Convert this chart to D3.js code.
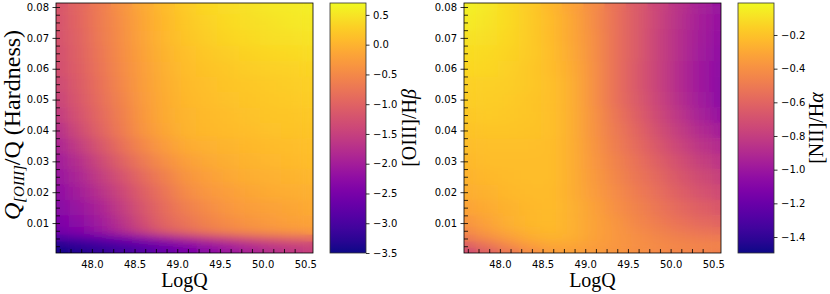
<!DOCTYPE html>
<meta charset="utf-8">
<style>
	body { margin: 0; background: #fff; }
	text { font-family: "DejaVu Sans"; font-size: 10px; fill: #000; }
	.serif { font-family: "Liberation Serif", "Times New Roman", serif; }
	.axis path.domain { display: none; }
	.axis line { stroke: #000; stroke-width: 0.8; }
</style>
<body>
<svg id="chart" width="830" height="294">
	<defs>
		<filter id="soft" x="0" y="0" width="1" height="1">
			<feGaussianBlur stdDeviation="9 4.5" />
		</filter>
	</defs>
</svg>

<script src="https://d3js.org/d3.v7.min.js"></script>
<script>
	// grid columns (log ionising photon rate) and rows (hardness), rows top to bottom
	var logQ = [47.6, 47.85, 48.1, 48.35, 48.6, 48.85, 49.1, 49.35, 49.6, 49.85, 50.1, 50.35, 50.6];
	var hardness = [0.08, 0.075, 0.07, 0.065, 0.06, 0.055, 0.05, 0.045, 0.04, 0.035, 0.03,
		0.025, 0.02, 0.015, 0.01, 0.0075, 0.005, 0.003, 0.001];

	// log [OIII]/Hbeta, one row per hardness value
	var oiiiHb = [
		[-1.20, -0.95, -0.65, -0.38, -0.12, 0.08, 0.25, 0.36, 0.43, 0.48, 0.52, 0.56, 0.60],
		[-1.22, -0.97, -0.67, -0.40, -0.14, 0.06, 0.22, 0.32, 0.39, 0.44, 0.48, 0.52, 0.55],
		[-1.24, -0.99, -0.69, -0.42, -0.16, 0.04, 0.19, 0.28, 0.35, 0.40, 0.44, 0.47, 0.50],
		[-1.27, -1.02, -0.72, -0.44, -0.19, 0.01, 0.14, 0.22, 0.28, 0.33, 0.37, 0.40, 0.43],
		[-1.30, -1.05, -0.75, -0.47, -0.22, -0.03, 0.10, 0.17, 0.22, 0.26, 0.29, 0.32, 0.35],
		[-1.37, -1.10, -0.80, -0.51, -0.25, -0.06, 0.07, 0.13, 0.18, 0.22, 0.25, 0.28, 0.30],
		[-1.45, -1.15, -0.85, -0.55, -0.28, -0.08, 0.05, 0.10, 0.15, 0.18, 0.21, 0.24, 0.26],
		[-1.58, -1.22, -0.92, -0.60, -0.31, -0.10, 0.02, 0.07, 0.12, 0.15, 0.18, 0.20, 0.22],
		[-1.75, -1.35, -1.00, -0.66, -0.36, -0.14, 0.00, 0.05, 0.09, 0.12, 0.15, 0.17, 0.19],
		[-1.90, -1.55, -1.18, -0.82, -0.50, -0.26, -0.10, -0.03, 0.02, 0.06, 0.09, 0.11, 0.13],
		[-2.05, -1.75, -1.38, -1.02, -0.68, -0.42, -0.22, -0.12, -0.05, 0.00, 0.04, 0.07, 0.10],
		[-2.15, -1.88, -1.55, -1.22, -0.88, -0.60, -0.36, -0.22, -0.13, -0.07, -0.03, 0.00, 0.03],
		[-2.25, -2.00, -1.72, -1.40, -1.05, -0.75, -0.48, -0.32, -0.22, -0.15, -0.10, -0.06, -0.03],
		[-2.35, -2.15, -1.90, -1.56, -1.18, -0.86, -0.62, -0.45, -0.33, -0.25, -0.19, -0.14, -0.10],
		[-2.45, -2.30, -2.05, -1.70, -1.30, -0.95, -0.75, -0.57, -0.44, -0.34, -0.27, -0.21, -0.17],
		[-2.55, -2.40, -2.15, -1.82, -1.45, -1.10, -0.88, -0.70, -0.56, -0.46, -0.38, -0.32, -0.28],
		[-2.95, -2.85, -2.70, -2.50, -2.25, -2.00, -1.75, -1.52, -1.32, -1.15, -1.02, -0.92, -0.85],
		[-3.35, -3.25, -3.12, -2.97, -2.80, -2.60, -2.40, -2.20, -2.00, -1.82, -1.66, -1.52, -1.42],
		[-3.45, -3.36, -3.22, -3.07, -2.90, -2.70, -2.50, -2.30, -2.10, -1.92, -1.74, -1.60, -1.48]
	];

	// log [NII]/Halpha
	var niiHa = [
		[-0.04, -0.07, -0.12, -0.17, -0.24, -0.32, -0.42, -0.54, -0.65, -0.76, -0.86, -0.95, -1.02],
		[-0.06, -0.08, -0.12, -0.17, -0.23, -0.31, -0.42, -0.54, -0.65, -0.76, -0.87, -0.96, -1.03],
		[-0.09, -0.10, -0.13, -0.17, -0.23, -0.31, -0.41, -0.54, -0.65, -0.77, -0.88, -0.97, -1.04],
		[-0.11, -0.12, -0.14, -0.17, -0.22, -0.30, -0.41, -0.54, -0.65, -0.77, -0.88, -0.98, -1.05],
		[-0.13, -0.13, -0.15, -0.18, -0.22, -0.29, -0.40, -0.54, -0.66, -0.77, -0.89, -0.99, -1.06],
		[-0.15, -0.15, -0.16, -0.18, -0.21, -0.28, -0.40, -0.54, -0.66, -0.77, -0.89, -0.99, -1.07],
		[-0.16, -0.16, -0.17, -0.19, -0.21, -0.28, -0.40, -0.54, -0.65, -0.76, -0.88, -0.98, -1.07],
		[-0.18, -0.17, -0.18, -0.19, -0.21, -0.28, -0.39, -0.52, -0.63, -0.74, -0.85, -0.95, -1.03],
		[-0.20, -0.19, -0.19, -0.20, -0.21, -0.28, -0.39, -0.50, -0.60, -0.71, -0.81, -0.90, -0.97],
		[-0.22, -0.21, -0.21, -0.21, -0.22, -0.28, -0.38, -0.48, -0.57, -0.67, -0.76, -0.84, -0.90],
		[-0.24, -0.22, -0.22, -0.22, -0.22, -0.28, -0.37, -0.46, -0.54, -0.63, -0.71, -0.79, -0.85],
		[-0.26, -0.24, -0.23, -0.22, -0.22, -0.28, -0.36, -0.44, -0.52, -0.59, -0.67, -0.73, -0.79],
		[-0.28, -0.26, -0.24, -0.23, -0.23, -0.28, -0.35, -0.42, -0.49, -0.56, -0.63, -0.69, -0.74],
		[-0.32, -0.29, -0.26, -0.24, -0.23, -0.27, -0.33, -0.40, -0.46, -0.52, -0.58, -0.63, -0.67],
		[-0.38, -0.32, -0.27, -0.24, -0.23, -0.27, -0.32, -0.38, -0.44, -0.49, -0.54, -0.58, -0.61],
		[-0.43, -0.36, -0.30, -0.26, -0.24, -0.27, -0.32, -0.37, -0.42, -0.46, -0.50, -0.53, -0.55],
		[-0.50, -0.42, -0.35, -0.29, -0.26, -0.28, -0.33, -0.37, -0.41, -0.44, -0.47, -0.49, -0.50],
		[-0.62, -0.52, -0.42, -0.34, -0.30, -0.31, -0.34, -0.37, -0.40, -0.42, -0.44, -0.45, -0.46],
		[-0.72, -0.62, -0.52, -0.42, -0.35, -0.34, -0.36, -0.38, -0.41, -0.43, -0.45, -0.46, -0.47]
	];

	var logQTicks = [48.0, 48.5, 49.0, 49.5, 50.0, 50.5];
	var hardTicks = [0.01, 0.02, 0.03, 0.04, 0.05, 0.06, 0.07, 0.08];
	var oiiiTicks = [0.5, 0.0, -0.5, -1.0, -1.5, -2.0, -2.5, -3.0, -3.5];
	var niiTicks = [-0.2, -0.4, -0.6, -0.8, -1.0, -1.2, -1.4];

	var svg = d3.select("#chart"),
		plotTop = 3, plotBottom = 253, plotW = 257, cbW = 36,
		xDomain = [47.58, 50.59],
		yDomain = [0.0003, 0.0813];

	function colEdges(i) {
		var a = i == 0 ? xDomain[0] : (logQ[i - 1] + logQ[i]) / 2;
		var b = i == logQ.length - 1 ? xDomain[1] : (logQ[i] + logQ[i + 1]) / 2;
		return [a, b];
	}
	function rowEdges(j) {
		var hi = j == 0 ? yDomain[1] : (hardness[j - 1] + hardness[j]) / 2;
		var lo = j == hardness.length - 1 ? yDomain[0] : (hardness[j] + hardness[j + 1]) / 2;
		return [hi, lo];
	}

	function panel(ox, grid, cDomain, cTicks, cbX, labelX, labelText, greek, withYLabel) {
		var x = d3.scaleLinear().domain(xDomain).range([ox, ox + plotW]);
		var y = d3.scaleLinear().domain(yDomain).range([plotBottom, plotTop]);
		var color = d3.scaleSequential(d3.interpolatePlasma).domain(cDomain);

		var cells = [];
		grid.forEach(function(row, j) {
			row.forEach(function(v, i) { cells.push({ i: i, j: j, v: v }); });
		});

		function drawCells(g) {
			g.selectAll("rect")
				.data(cells)
				.enter().append("rect")
				.attr("x", function(d) { return x(colEdges(d.i)[0]); })
				.attr("width", function(d) { var e = colEdges(d.i); return x(e[1]) - x(e[0]) + 0.5; })
				.attr("y", function(d) { return y(rowEdges(d.j)[0]); })
				.attr("height", function(d) { var e = rowEdges(d.j); return y(e[1]) - y(e[0]) + 0.5; })
				.attr("fill", function(d) { return color(d.v); });
		}

		var clipId = "clip" + ox;
		svg.select("defs").append("clipPath").attr("id", clipId)
			.append("rect").attr("x", ox).attr("y", plotTop).attr("width", plotW).attr("height", plotBottom - plotTop);

		var map = svg.append("g").attr("clip-path", "url(#" + clipId + ")");
		map.append("g").call(drawCells);
		map.append("g").attr("filter", "url(#soft)").call(drawCells);

		// inner minor ticks
		svg.append("g").attr("class", "axis")
			.attr("transform", "translate(" + ox + ",0)")
			.call(d3.axisLeft(y).tickValues(d3.range(0.0025, 0.0801, 0.0025)).tickSize(-4).tickFormat(""));
		svg.append("g").attr("class", "axis")
			.attr("transform", "translate(0," + plotBottom + ")")
			.call(d3.axisBottom(x).tickValues(d3.range(47.625, 50.4, 0.125)).tickSize(-4).tickFormat(""));

		// labelled axes
		svg.append("g").attr("class", "axis")
			.attr("transform", "translate(" + ox + ",0)")
			.call(d3.axisLeft(y).tickValues(hardTicks).tickSize(3.5).tickPadding(3.5).tickFormat(d3.format(".2f")));
		svg.append("g").attr("class", "axis")
			.attr("transform", "translate(0," + plotBottom + ")")
			.call(d3.axisBottom(x).tickValues(logQTicks).tickSize(0).tickPadding(7.4).tickFormat(d3.format(".1f")));

		svg.append("rect")
			.attr("x", ox).attr("y", plotTop).attr("width", plotW).attr("height", plotBottom - plotTop)
			.attr("fill", "none").attr("stroke", "#000").attr("stroke-width", 0.8);

		svg.append("text").attr("class", "serif")
			.attr("x", ox + plotW / 2).attr("y", 287)
			.attr("text-anchor", "middle").style("font-size", "20px")
			.text("LogQ");

		if (withYLabel) {
			var yl = svg.append("text").attr("class", "serif")
				.attr("transform", "translate(20," + ((plotTop + plotBottom) / 2 - 3) + ") rotate(-90)")
				.attr("text-anchor", "middle").style("font-size", "24px");
			yl.append("tspan").style("font-style", "italic").text("Q");
			yl.append("tspan").style("font-style", "italic").style("font-size", "15px").attr("dy", 4).text("[OIII]");
			yl.append("tspan").attr("dy", -4).text("/Q (Hardness)");
		}

		// colour bar
		var cy = d3.scaleLinear().domain(cDomain).range([plotBottom, plotTop]);
		var gradId = "grad" + ox;
		var grad = svg.select("defs").append("linearGradient").attr("id", gradId)
			.attr("x1", 0).attr("y1", 1).attr("x2", 0).attr("y2", 0);
		d3.range(0, 1.0001, 0.05).forEach(function(t) {
			grad.append("stop").attr("offset", t)
				.attr("stop-color", color(cDomain[0] + t * (cDomain[1] - cDomain[0])));
		});
		svg.append("rect")
			.attr("x", cbX).attr("y", plotTop).attr("width", cbW).attr("height", plotBottom - plotTop)
			.attr("fill", "url(#" + gradId + ")")
			.attr("stroke", "#333").attr("stroke-width", 0.8);
		svg.append("g").attr("class", "axis")
			.attr("transform", "translate(" + (cbX + cbW) + ",0)")
			.call(d3.axisRight(cy).tickValues(cTicks).tickSize(3.5).tickPadding(3.5).tickFormat(d3.format(".1f")));

		var cl = svg.append("text").attr("class", "serif")
			.attr("transform", "translate(" + labelX + "," + (plotTop + plotBottom) / 2 + ") rotate(-90)")
			.attr("text-anchor", "middle").style("font-size", "20px");
		cl.append("tspan").text(labelText);
		cl.append("tspan").style("font-style", "italic").text(greek);
	}

	panel(56, oiiiHb, [-3.5, 0.70], oiiiTicks, 330, 416, "[OIII]/H", "\u03b2", true);
	panel(464, niiHa, [-1.495, -0.01], niiTicks, 738, 823, "[NII]/H", "\u03b1", false);
</script>
</body>
